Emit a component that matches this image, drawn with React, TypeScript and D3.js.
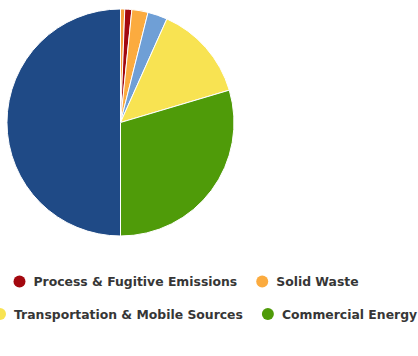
import React from "react";
import * as d3 from "d3";

const categories = [
  "Agriculture",
  "Process & Fugitive Emissions",
  "Solid Waste",
  "Wastewater",
  "Transportation & Mobile Sources",
  "Commercial Energy",
  "Residential Energy",
];
const values = [0.6, 1.0, 2.3, 2.8, 13.7, 29.6, 50.0];
const colors = ["#f7a03c", "#a3080f", "#fbab3f", "#6f9fd6", "#f8e352", "#4f9b09", "#1f4a86"];

const legendRows = [
  ["Process & Fugitive Emissions", "Solid Waste"],
  ["Transportation & Mobile Sources", "Commercial Energy"],
];

export default function App() {
  const width = 418;
  const height = 356;
  const cx = 120.5;
  const cy = 122.5;
  const r = 113.5;
  const pie = d3.pie<number>().sort(null).value((d) => d)(values);
  const arc = d3.arc<d3.PieArcDatum<number>>().innerRadius(0).outerRadius(r);
  const colorOf = (name: string) => colors[categories.indexOf(name)];
  const rowX = [12.5, -7];
  const rowY = [281.5, 314];
  const gap = 18;
  const fs = 12.4;
  const font = "'DejaVu Sans', Verdana, sans-serif";
  const ctx = document.createElement("canvas").getContext("2d")!;
  ctx.font = `bold ${fs}px ${font}`;
  const measure = (t: string) => ctx.measureText(t).width;
  return (
    <svg
      width={width}
      height={height}
      style={{ position: "absolute", left: 0, top: 0, background: "#fff" }}
    >
      <g transform={`translate(${cx},${cy})`}>
        {pie.map((p, i) => (
          <path key={i} d={arc(p) || ""} fill={colors[i]} stroke="#fff" strokeWidth={1} strokeLinejoin="round" />
        ))}
      </g>
      {legendRows.map((row, ri) => {
        let x = rowX[ri];
        return row.map((name) => {
          const gx = x;
          x += 21 + measure(name) + gap;
          return (
            <g key={name} transform={`translate(${gx},${rowY[ri]})`}>
              <circle cx={7} cy={0} r={6} fill={colorOf(name)} />
              <text x={21} y={4.5} fontFamily={font} fontWeight="bold" fontSize={fs} fill="#363636">
                {name}
              </text>
            </g>
          );
        });
      })}
    </svg>
  );
}
